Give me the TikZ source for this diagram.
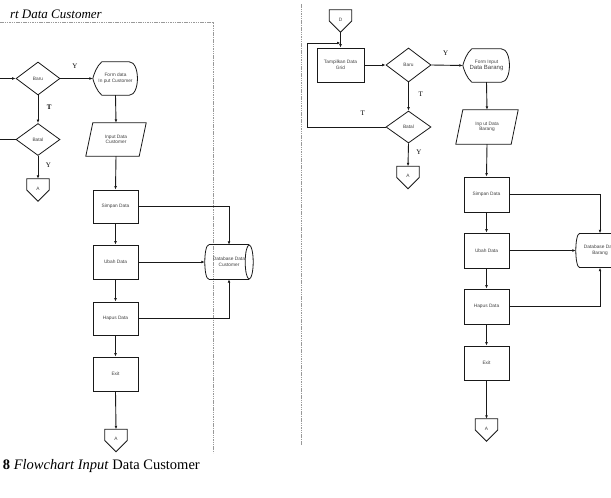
\documentclass[tikz,border=0pt]{standalone}
\usepackage{fontspec}
\setmainfont{Liberation Serif}
\newfontfamily\boxfont{Liberation Sans}
\usetikzlibrary{shapes.geometric,arrows.meta,calc}
\tikzset{
  txt/.style={font=\boxfont\fontsize{4.8}{5.6}\selectfont, text=black!75, align=center, inner sep=0pt},
  shp/.style={draw=black!90, line width=0.8pt},
  boxnode/.style={txt, shp, rectangle, minimum width=45, minimum height=34},
  dia/.style={txt, shp, diamond, minimum width=44, minimum height=33},
  ghost/.style={txt, rectangle},
  flow/.style={draw=black!90, line width=0.9pt, -{Latex[length=3.5pt,width=2.8pt]}},
  plainflow/.style={draw=black!90, line width=0.9pt},
  dashln/.style={draw=black!40, line width=0.7pt, dash pattern=on 1.5pt off 0.8pt},
  ytlabel/.style={font=\fontsize{7}{8}\selectfont, inner sep=0pt}
}
\newcommand{\OffPage}[4]{%
  \node[ghost, minimum width=22, minimum height=22] (#1) at (#2,#3) {\raisebox{3pt}{#4}};
  \draw[shp] (#1.north west) -- (#1.north east) -- (#1.east) -- (#1.south) -- (#1.west) -- cycle;}
\newcommand{\Display}[6]{%
  \node[ghost, minimum width=#4, minimum height=#5] (#1) at (#2,#3) {#6};
  \draw[shp] ($(#1.north west)+(9,0)$) -- ($(#1.north east)+(-9,0)$)
    .. controls ($(#1.north east)+(2,0)$) and ($(#1.south east)+(2,0)$) .. ($(#1.south east)+(-9,0)$)
    -- ($(#1.south west)+(9,0)$)
    .. controls ($(#1.south west)+(4,-4)$) and ($(#1.west)+(1,4)$) .. (#1.west)
    .. controls ($(#1.west)+(1,-4)$) and ($(#1.north west)+(4,4)$) .. cycle;}
\newcommand{\Para}[6]{%
  \node[ghost, minimum width=#4, minimum height=#5] (#1) at (#2,#3) {#6};
  \draw[shp] (#1.south west) -- ($(#1.south east)+(-7,0)$) -- (#1.north east) -- ($(#1.north west)+(7,0)$) -- cycle;}
\newcommand{\Cyl}[4]{%
  \node[ghost, minimum width=48, minimum height=34] (#1) at (#2,#3) {#4};
  \draw[shp] ($(#1.north west)+(4,0)$) -- ($(#1.north east)+(-4,0)$);
  \draw[shp] ($(#1.south west)+(4,0)$) -- ($(#1.south east)+(-4,0)$);
  \draw[shp] ($(#1.north west)+(4,0)$) .. controls ($(#1.north west)+(-1.33,0)$) and ($(#1.south west)+(-1.33,0)$) .. ($(#1.south west)+(4,0)$);
  \draw[shp] ($(#1.east)+(-4,0)$) ellipse [x radius=4, y radius=17];}
\begin{document}
\begin{tikzpicture}[x=1pt,y=-1pt]
\useasboundingbox (0,0) rectangle (611,498);
\clip (0,0) rectangle (611,498);
\fill[white] (0,0) rectangle (611,498);

% titles
\node[font=\fontsize{13}{15}\selectfont\itshape, anchor=base east, inner sep=0pt] (title) at (102,18) {rt Data Customer};
\node[font=\fontsize{14.5}{16}\selectfont, anchor=base east, inner sep=0pt] (caption) at (200,469) {\textbf{8} \textit{Flowchart Input} Data Customer};

% dashed frames
\draw[dashln] (0,22) -- (213,22) -- (213,453);
\draw[dashln] (301,4) -- (301,445);

% ===== left flowchart =====
\coordinate (startA) at (0,78.5);
\coordinate (loopA) at (0,139.5);
\node[dia] (baruA) at (38,78.5) {Baru};
\node[dia, minimum height=32] (batalA) at (38,139.5) {Batal};
\OffPage{offA1}{38}{190}{A}
\Display{formA}{115.5}{78.5}{45}{33}{Form data\\In put Customer}
\Para{inA}{116}{139.5}{60}{33}{Input Data\\Customer}
\node[boxnode, minimum height=33] (simpA) at (115.5,206.5) {Simpan Data};
\node[boxnode] (ubahA) at (115.5,262) {Ubah Data};
\node[boxnode, minimum height=33] (hapA) at (115.5,318.5) {Hapus Data};
\node[boxnode] (exitA) at (115.5,374) {Exit};
\OffPage{offA2}{116}{440.5}{A}
\Cyl{dbA}{229}{262}{Database Data\\Customer}

\draw[flow] (startA) -- (baruA.west);
\draw[plainflow] (batalA.west) -- (loopA);
\draw[flow] (baruA.east) -- (formA.west);
\draw[flow] (baruA.south) -- (batalA.north);
\draw[flow] (batalA.south) -- (offA1.north);
\draw[flow] (formA.south) -- (inA.north);
\draw[flow] (inA.south) -- (simpA.north);
\draw[flow] (simpA.south) -- (ubahA.north);
\draw[flow] (ubahA.south) -- (hapA.north);
\draw[flow] (hapA.south) -- (exitA.north);
\draw[flow] (exitA.south) -- (offA2.north);
\draw[flow, line width=0.7pt] (simpA.east) -| (dbA.north);
\draw[flow, line width=0.7pt] (ubahA.east) -- (dbA.west);
\draw[flow, line width=0.7pt] (hapA.east) -| (dbA.south);

\node[ytlabel] (lyA1) at (75,66.5) {Y};
\node[ytlabel, font=\fontsize{7}{8}\selectfont\bfseries] (ltA1) at (49.3,107.5) {T};
\node[ytlabel] (lyA2) at (48.3,165) {Y};

% ===== right flowchart =====
\OffPage{offD}{340.5}{21}{D}
\node[boxnode, minimum width=47] (gridB) at (340.5,65) {Tampilkan Data\\Grid};
\node[dia, minimum width=45, minimum height=34] (baruB) at (408.5,65) {Baru};
\Display{formB}{486.5}{65.5}{47}{33}{Form Input\\{\fontsize{6}{7}\selectfont Data Barang}}
\node[dia, minimum width=45, minimum height=32] (batalB) at (408.5,127) {Batal};
\OffPage{offB1}{408}{177.5}{A}
\Para{inB}{487}{127}{62}{34}{Inp ut Data\\Barang}
\node[boxnode, minimum height=35] (simpB) at (486.5,194.5) {Simpan Data};
\node[boxnode, minimum height=35] (ubahB) at (486.5,250.5) {Ubah Data};
\node[boxnode, minimum height=35] (hapB) at (486.5,306.5) {Hapus Data};
\node[boxnode] (exitB) at (486.5,363) {Exit};
\OffPage{offB2}{486.5}{430}{A}
\Cyl{dbB}{600}{250.5}{Database Data\\Barang}

\coordinate (lpB) at (307,43);
\coordinate (jB) at (340.5,43);
\draw[flow] (offD.south) -- (gridB.north);
\draw[flow] (batalB.west) -| (lpB) -- (jB);
\draw[flow] (gridB.east) -- (baruB.west);
\draw[flow] (baruB.east) -- (formB.west);
\draw[flow] (baruB.south) -- (batalB.north);
\draw[flow] (batalB.south) -- (offB1.north);
\draw[flow] (formB.south) -- (inB.north);
\draw[flow] (inB.south) -- (simpB.north);
\draw[flow] (simpB.south) -- (ubahB.north);
\draw[flow] (ubahB.south) -- (hapB.north);
\draw[flow] (hapB.south) -- (exitB.north);
\draw[flow] (exitB.south) -- (offB2.north);
\draw[flow, line width=0.7pt] (simpB.east) -| (dbB.north);
\draw[flow, line width=0.7pt] (ubahB.east) -- (dbB.west);
\draw[flow, line width=0.7pt] (hapB.east) -| (dbB.south);

\node[ytlabel] (lyB1) at (445.7,53.3) {Y};
\node[ytlabel] (ltB1) at (420.7,94.3) {T};
\node[ytlabel] (ltB2) at (362.7,113.3) {T};
\node[ytlabel] (lyB2) at (419,152.3) {Y};
\end{tikzpicture}
\end{document}
